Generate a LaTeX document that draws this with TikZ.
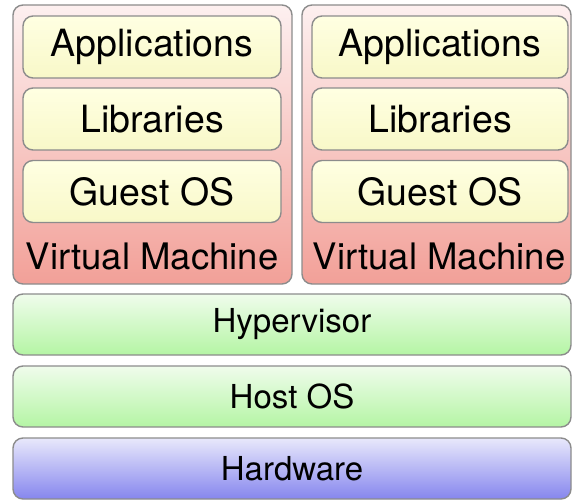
\documentclass[tikz,border=0pt]{standalone}
\usepackage{fontspec}
\setmainfont{TeX Gyre Heros}
\definecolor{linegray}{HTML}{8C8C8C}
\definecolor{vmtop}{HTML}{FDF0F0}
\definecolor{vmbot}{HTML}{F2A098}
\definecolor{boxtop}{HTML}{FFFFE2}
\definecolor{boxbot}{HTML}{F8F8C8}
\definecolor{hosttop}{HTML}{F0FCEC}
\definecolor{hostbot}{HTML}{B4F5A4}
\definecolor{hwtop}{HTML}{E8E8FB}
\definecolor{hwbot}{HTML}{8686EE}
\tikzset{
  layer/.style={draw=linegray,line width=1.4pt,rounded corners=10pt,inner sep=0pt},
  vmbox/.style={layer,top color=vmtop,bottom color=vmbot,minimum height=279pt},
  stackbox/.style={layer,top color=boxtop,bottom color=boxbot,minimum height=62pt,
    font=\fontsize{37.5}{42}\selectfont},
  hostbox/.style={layer,top color=hosttop,bottom color=hostbot,minimum width=558pt,
    minimum height=61pt,font=\fontsize{33}{38}\selectfont},
  hwbox/.style={hostbox,top color=hwtop,bottom color=hwbot},
  label/.style={font=\fontsize{36.5}{41}\selectfont,inner sep=0pt}
}
\begin{document}
\begin{tikzpicture}[x=1pt,y=-1pt]
  \useasboundingbox (0,0) rectangle (572,502);
  % two virtual machines side by side
  \node[vmbox,minimum width=279pt] (vm1) at (152.5,144.5) {};
  \node[vmbox,minimum width=269pt] (vm2) at (436.5,144.5) {};
  \node[stackbox,minimum width=258pt] (app1) at (152,47) {Applications};
  \node[stackbox,minimum width=258pt] (lib1) at (152,119) {Libraries};
  \node[stackbox,minimum width=258pt] (os1) at (152,191.5) {Guest OS};
  \node[label] (name1) at (152,256) {Virtual Machine};
  \node[stackbox,minimum width=256pt] (app2) at (440,47) {Applications};
  \node[stackbox,minimum width=256pt] (lib2) at (440,119) {Libraries};
  \node[stackbox,minimum width=256pt] (os2) at (440,191.5) {Guest OS};
  \node[label] (name2) at (439,256) {Virtual Machine};
  % shared layers below
  \node[hostbox] (hyp) at (292,324.5) {Hypervisor};
  \node[hostbox] (host) at (292,396.5) {Host OS};
  \node[hwbox] (hw) at (292,468.5) {Hardware};
\end{tikzpicture}
\end{document}
